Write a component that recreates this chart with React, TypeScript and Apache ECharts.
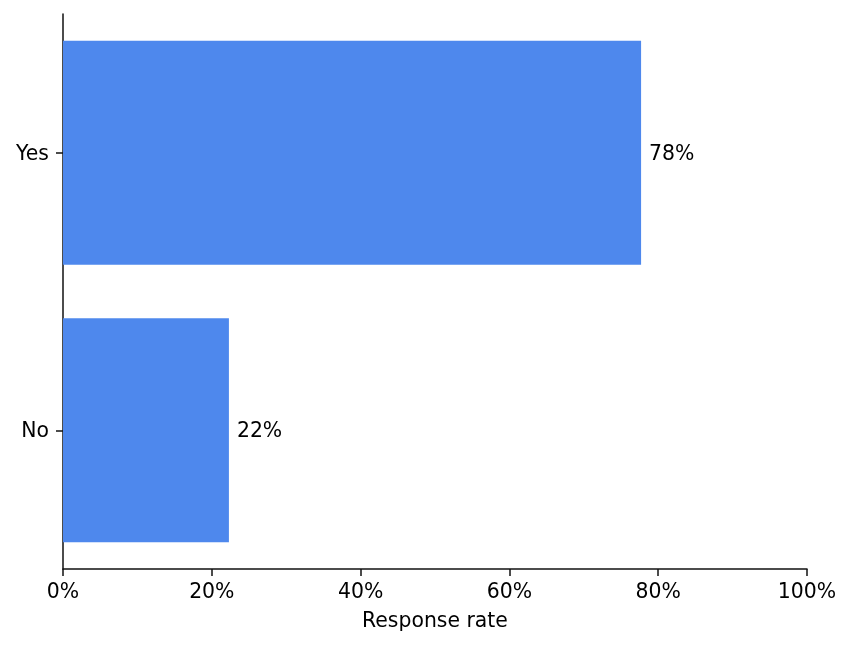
import React, { useEffect, useRef } from "react";
import * as echarts from "echarts";

const categories = ["No", "Yes"];
const values = [22.3, 77.7];
const xTicks = [0, 20, 40, 60, 80, 100];
const axisName = "Response rate";

export default function App() {
  const ref = useRef<HTMLDivElement>(null);
  useEffect(() => {
    if (!ref.current) return;
    const chart = echarts.init(ref.current, null, { renderer: "svg" });
    const font = "DejaVu Sans";
    const fs = 20.4;
    chart.setOption({
      animation: false,
      textStyle: { fontFamily: font },
      grid: { left: 63, right: 45, top: 14, bottom: 78, containLabel: false },
      xAxis: {
        type: "value",
        min: xTicks[0],
        max: xTicks[xTicks.length - 1],
        interval: 20,
        name: axisName,
        nameLocation: "middle",
        nameGap: 41,
        nameTextStyle: { color: "#000", fontSize: fs, fontFamily: font },
        splitLine: { show: false },
        axisLine: { show: true, lineStyle: { color: "#111", width: 1.5 } },
        axisTick: { show: true, length: 7, lineStyle: { color: "#111", width: 1.5 } },
        axisLabel: {
          color: "#000",
          fontSize: fs,
          margin: 12,
          fontFamily: font,
          formatter: (v: number) => `${v}%`,
        },
      },
      yAxis: {
        type: "category",
        data: categories,
        axisLine: { show: true, lineStyle: { color: "#111", width: 1.5 } },
        axisTick: { show: true, length: 7, alignWithLabel: true, lineStyle: { color: "#111", width: 1.5 } },
        axisLabel: { color: "#000", fontSize: fs, margin: 14, fontFamily: font },
        splitLine: { show: false },
      },
      series: [
        {
          type: "bar",
          data: values,
          barWidth: 224,
          itemStyle: { color: "#4e88ed" },
          label: {
            show: true,
            position: "right",
            distance: 8,
            color: "#000",
            fontSize: fs,
            fontFamily: font,
            formatter: (p: any) => `${Math.round(p.value)}%`,
          },
        },
      ],
    });
    return () => chart.dispose();
  }, []);
  return (
    <div
      ref={ref}
      style={{ position: "fixed", left: 0, top: 0, width: 852, height: 647 }}
    />
  );
}
